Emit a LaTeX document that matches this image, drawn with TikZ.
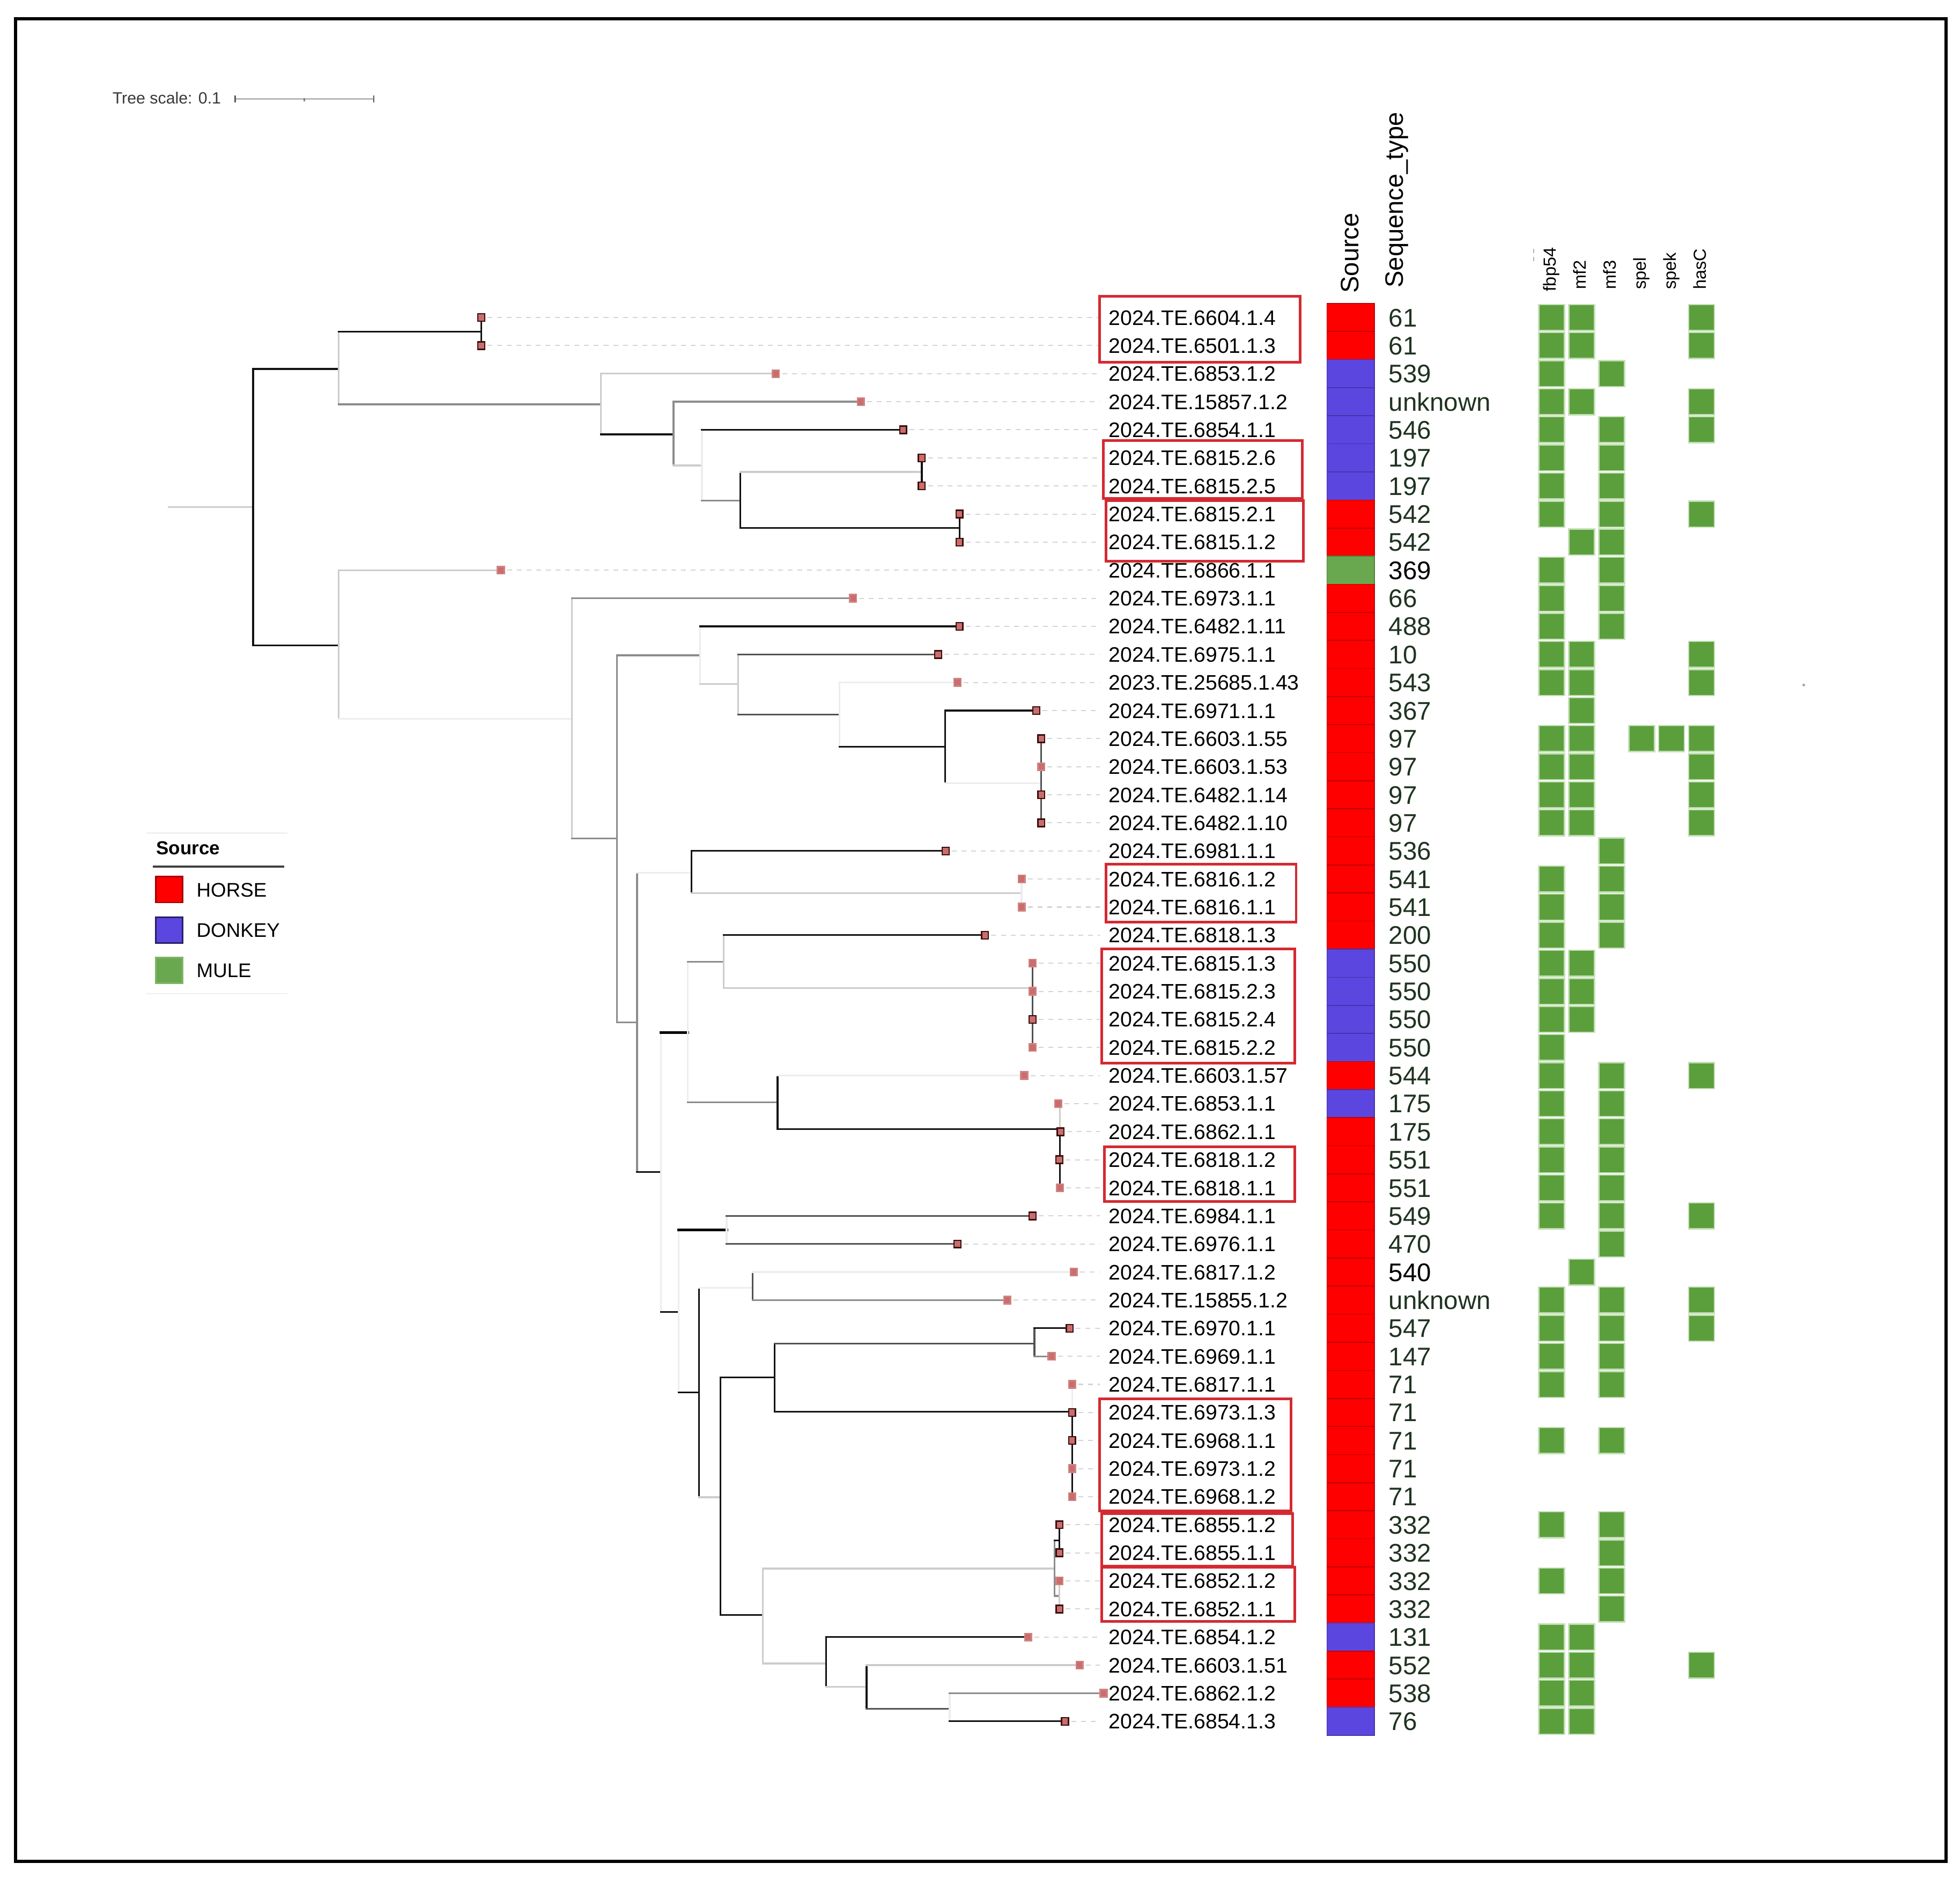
\documentclass[tikz,border=0pt]{standalone}
\usepackage{fontspec}
\setmainfont{Liberation Sans}
\definecolor{horse}{HTML}{FF0000}
\definecolor{donkey}{HTML}{5C46E0}
\definecolor{mule}{HTML}{6AA84F}
\definecolor{gene}{HTML}{5B9F3D}
\definecolor{genebd}{HTML}{C3DFB4}
\definecolor{boxred}{HTML}{D42A32}
\definecolor{leaffill}{HTML}{C96D6D}
\definecolor{leafdk}{HTML}{3A0C0C}
\definecolor{seqcol}{HTML}{1F3320}
\newcommand\hbr[3]{\draw[#1] (#2 |- #3) -- (#3);}
\newcommand\vbr[4]{\draw[#1] (#2 |- #3) -- (#2 |- #4);}
\tikzset{
 cK/.style={draw=black!93, line width=0.4pt, line cap=rect},
 cKt/.style={draw=black, line width=0.65pt, line cap=rect},
 cD/.style={draw=black!68, line width=0.4pt, line cap=rect},
 cG/.style={draw=black!45, line width=0.4pt, line cap=rect},
 cL/.style={draw=black!20, line width=0.4pt, line cap=rect},
 cV/.style={draw=black!7, line width=0.4pt, line cap=rect},
 leafk/.style={rectangle, draw=leafdk, fill=leaffill, line width=0.3pt, minimum width=1.55pt, minimum height=1.7pt, inner sep=0pt},
 leafl/.style={rectangle, draw=leaffill!85!white, fill=leaffill, line width=0.3pt, minimum width=1.55pt, minimum height=1.7pt, inner sep=0pt},
 leader/.style={draw=black!17, line width=0.25pt, dash pattern=on 1.1pt off 1.1pt},
 lbl/.style={anchor=base west, inner sep=0pt, outer sep=0pt, font=\fontsize{4.78pt}{5pt}\selectfont},
 seqt/.style={anchor=base west, inner sep=0pt, outer sep=0pt, font=\fontsize{5.8pt}{6pt}\selectfont},
 hdr/.style={anchor=base west, inner sep=0pt, outer sep=0pt, font=\fontsize{5.75pt}{6pt}\selectfont},
 ghdr/.style={anchor=base west, inner sep=0pt, outer sep=0pt, font=\fontsize{3.98pt}{4.2pt}\selectfont},
 legi/.style={anchor=base west, inner sep=0pt, outer sep=0pt, font=\fontsize{4.48pt}{4.7pt}\selectfont},
 legsq/.style={rectangle, minimum width=0.213cm, minimum height=0.206cm, inner sep=0pt, line width=0.35pt},
 redbox/.style={draw=boxred, line width=0.6pt},
 frame/.style={draw=black, line width=0.74pt},
}
\begin{document}
\begin{tikzpicture}[x=0.01cm,y=-0.01cm]
\useasboundingbox (0,0) rectangle (1568,1502.3);
\draw[frame] (12.6,15) rectangle (1557,1489);

% tree scale
\node[anchor=base west, inner sep=0pt, font=\fontsize{3.7pt}{4pt}\selectfont, text=black!78] (tscale) at (89.3,83) {Tree scale: 0.1};
\coordinate (sb1) at (188,79.3);
\coordinate (sbm) at (243.5,79.3);
\coordinate (sb2) at (299,79.3);
\draw[draw=black!28, line width=0.4pt] (sb1) -- (sb2);
\draw[draw=black!65, line width=0.35pt] (sb1) ++(0,-2.9) -- ++(0,5.4);
\draw[draw=black!65, line width=0.35pt] (sb2) ++(0,-2.9) -- ++(0,5.4);
\draw[draw=black!50, line width=0.3pt] (sbm) ++(0,-1) -- ++(0,3);

% leaf coordinates
\foreach \i/\x in {1/385,2/385,3/620.7,4/688.6,5/722.5,6/737.4,7/737.4,8/767.6,9/767.6,10/400.7,
 11/682.4,12/767.6,13/750.5,14/766,15/829,16/833,17/833,18/833,19/833,20/756.5,
 21/817.3,22/817.3,23/788,24/826,25/826,26/826,27/826,28/819.4,29/846.5,30/848.5,
 31/847.5,32/848,33/826,34/766,35/859,36/805.7,37/855.7,38/841.3,39/857.7,40/857.7,
 41/857.7,42/857.7,43/857.7,44/847.6,45/847.6,46/847.6,47/847.6,48/822.5,49/863.7,50/882.9,51/852}{
 \pgfmathsetmacro\yy{254+22.46*(\i-1)}
 \coordinate (L\i) at (\x,\yy);
}

% internal nodes
\coordinate (root) at (135,405.75);
\coordinate (n0) at (202.5,405.75);
\coordinate (A) at (271,295.2);
\coordinate (B) at (385,265.23);
\coordinate (C) at (480.7,323.5);
\coordinate (D) at (538.8,347.5);
\coordinate (E) at (561.6,372.4);
\coordinate (F) at (592.3,400.4);
\coordinate (G) at (737.4,377.5);
\coordinate (H) at (767.6,422.45);
\coordinate (I) at (271,516.3);
\coordinate (J) at (457.4,575.1);
\coordinate (K) at (493.7,670.6);
\coordinate (M) at (560,524.3);
\coordinate (N) at (590.6,547.3);
\coordinate (O) at (671.6,571.6);
\coordinate (Q) at (756,597.5);
\coordinate (Rc) at (833,626.6);
\coordinate (P) at (509.6,818);
\coordinate (S) at (553.3,698.3);
\coordinate (T) at (817.3,714.4);
\coordinate (W) at (528.8,937.5);
\coordinate (X) at (550.2,826);
\coordinate (Y) at (578.8,769.5);
\coordinate (Y2) at (826,790.5);
\coordinate (Z) at (622,881.9);
\coordinate (Z2) at (848,903.3);
\coordinate (AA) at (543,1049.5);
\coordinate (AB) at (581.3,984);
\coordinate (AC) at (559.3,1113.8);
\coordinate (AD) at (602,1030.3);
\coordinate (AE) at (576.4,1197.8);
\coordinate (AF) at (619.6,1102);
\coordinate (AG) at (827.6,1075);
\coordinate (AH) at (857.7,1129.4);
\coordinate (AJ) at (610.3,1292);
\coordinate (AK) at (843.5,1254.8);
\coordinate (AK1) at (847.6,1232.3);
\coordinate (AK2) at (847.6,1276.7);
\coordinate (AM) at (660.8,1330.8);
\coordinate (AN) at (693.3,1349.4);
\coordinate (AO) at (759.8,1367);

% branches
\draw[cL] (root) -- (n0);
\vbr{cK}{n0}{A}{I} \hbr{cK}{n0}{A} \hbr{cK}{n0}{I}
\vbr{cL}{A}{B}{C} \hbr{cK}{A}{B} \hbr{cG}{A}{C}
\vbr{cK}{B}{L1}{L2}
\vbr{cL}{C}{L3}{D} \hbr{cL}{C}{L3} \hbr{cK}{C}{D}
\vbr{cG}{D}{L4}{E} \hbr{cG}{D}{L4} \hbr{cL}{D}{E}
\vbr{cV}{E}{L5}{F} \hbr{cK}{E}{L5} \hbr{cG}{E}{F}
\vbr{cK}{F}{G}{H} \hbr{cL}{F}{G} \hbr{cK}{F}{H}
\vbr{cK}{G}{L6}{L7}
\vbr{cK}{H}{L8}{L9}
\vbr{cL}{I}{L10}{J} \hbr{cL}{I}{L10} \hbr{cV}{I}{J}
\vbr{cL}{J}{L11}{K} \hbr{cG}{J}{L11} \hbr{cG}{J}{K}
\vbr{cG}{K}{M}{P} \hbr{cG}{K}{M} \hbr{cG}{K}{P}
\vbr{cV}{M}{L12}{N} \hbr{cK}{M}{L12} \hbr{cL}{M}{N}
\vbr{cL}{N}{L13}{O} \hbr{cD}{N}{L13} \hbr{cD}{N}{O}
\vbr{cV}{O}{L14}{Q} \hbr{cV}{O}{L14} \hbr{cK}{O}{Q}
\vbr{cK}{Q}{L15}{Rc} \hbr{cK}{Q}{L15} \hbr{cV}{Q}{Rc}
\vbr{cD}{Rc}{L16}{L19}
\vbr{cG}{P}{S}{W} \hbr{cV}{P}{S} \hbr{cK}{P}{W}
\vbr{cK}{S}{L20}{T} \hbr{cK}{S}{L20} \hbr{cL}{S}{T}
\vbr{cV}{T}{L21}{L22}
\vbr{cV}{W}{X}{AA} \hbr{cKt}{W}{X} \hbr{cK}{W}{AA}
\vbr{cV}{X}{Y}{Z} \hbr{cG}{X}{Y} \hbr{cG}{X}{Z}
\vbr{cL}{Y}{L23}{Y2} \hbr{cK}{Y}{L23} \hbr{cL}{Y}{Y2}
\vbr{cD}{Y2}{L24}{L27}
\vbr{cK}{Z}{L28}{Z2} \hbr{cV}{Z}{L28} \hbr{cK}{Z}{Z2}
\vbr{cL}{Z2}{L29}{Z2} \vbr{cK}{Z2}{Z2}{L32}
\vbr{cV}{AA}{AB}{AC} \hbr{cKt}{AA}{AB} \hbr{cK}{AA}{AC}
\vbr{cV}{AB}{L33}{L34} \hbr{cD}{AB}{L33} \hbr{cD}{AB}{L34}
\vbr{cK}{AC}{AD}{AE} \hbr{cV}{AC}{AD} \hbr{cL}{AC}{AE}
\vbr{cD}{AD}{L35}{L36} \hbr{cV}{AD}{L35} \hbr{cG}{AD}{L36}
\vbr{cK}{AE}{AF}{AJ} \hbr{cK}{AE}{AF} \hbr{cK}{AE}{AJ}
\vbr{cK}{AF}{AG}{AH} \hbr{cD}{AF}{AG} \hbr{cK}{AF}{AH}
\vbr{cD}{AG}{L37}{L38} \hbr{cK}{AG}{L37} \hbr{cG}{AG}{L38}
\vbr{cV}{AH}{L39}{AH} \vbr{cK}{AH}{AH}{L43}
\vbr{cL}{AJ}{AK}{AM} \hbr{cL}{AJ}{AK} \hbr{cL}{AJ}{AM}
\vbr{cG}{AK}{AK1}{AK2} \hbr{cK}{AK}{AK1} \hbr{cG}{AK}{AK2}
\vbr{cK}{AK1}{L44}{L45}
\vbr{cL}{AK2}{L46}{L47}
\vbr{cK}{AM}{L48}{AN} \hbr{cK}{AM}{L48} \hbr{cL}{AM}{AN}
\vbr{cK}{AN}{L49}{AO} \hbr{cL}{AN}{L49} \hbr{cD}{AN}{AO}
\vbr{cV}{AO}{L50}{L51} \hbr{cG}{AO}{L50} \hbr{cK}{AO}{L51}

% leader lines
\coordinate (lx) at (880,0);
\foreach \i in {1,...,49,51}{
 \draw[leader] (L\i) ++(5,0) -- (L\i -| lx);
}

% leaf squares
\foreach \i/\s in {1/k,2/k,3/l,4/l,5/k,6/k,7/k,8/k,9/k,10/l,11/l,12/k,13/k,14/l,15/k,16/k,17/l,18/k,19/k,20/k,
 21/l,22/l,23/k,24/l,25/l,26/k,27/l,28/l,29/l,30/k,31/k,32/l,33/k,34/k,35/l,36/l,37/k,38/l,39/l,40/k,
 41/k,42/l,43/l,44/k,45/k,46/l,47/k,48/l,49/l,50/l,51/k}{
 \node[leaf\s] (S\i) at (L\i) {};
}

% labels
\foreach \i/\t in {1/2024.TE.6604.1.4,2/2024.TE.6501.1.3,3/2024.TE.6853.1.2,4/2024.TE.15857.1.2,5/2024.TE.6854.1.1,
 6/2024.TE.6815.2.6,7/2024.TE.6815.2.5,8/2024.TE.6815.2.1,9/2024.TE.6815.1.2,10/2024.TE.6866.1.1,
 11/2024.TE.6973.1.1,12/2024.TE.6482.1.11,13/2024.TE.6975.1.1,14/2023.TE.25685.1.43,15/2024.TE.6971.1.1,
 16/2024.TE.6603.1.55,17/2024.TE.6603.1.53,18/2024.TE.6482.1.14,19/2024.TE.6482.1.10,20/2024.TE.6981.1.1,
 21/2024.TE.6816.1.2,22/2024.TE.6816.1.1,23/2024.TE.6818.1.3,24/2024.TE.6815.1.3,25/2024.TE.6815.2.3,
 26/2024.TE.6815.2.4,27/2024.TE.6815.2.2,28/2024.TE.6603.1.57,29/2024.TE.6853.1.1,30/2024.TE.6862.1.1,
 31/2024.TE.6818.1.2,32/2024.TE.6818.1.1,33/2024.TE.6984.1.1,34/2024.TE.6976.1.1,35/2024.TE.6817.1.2,
 36/2024.TE.15855.1.2,37/2024.TE.6970.1.1,38/2024.TE.6969.1.1,39/2024.TE.6817.1.1,40/2024.TE.6973.1.3,
 41/2024.TE.6968.1.1,42/2024.TE.6973.1.2,43/2024.TE.6968.1.2,44/2024.TE.6855.1.2,45/2024.TE.6855.1.1,
 46/2024.TE.6852.1.2,47/2024.TE.6852.1.1,48/2024.TE.6854.1.2,49/2024.TE.6603.1.51,50/2024.TE.6862.1.2,
 51/2024.TE.6854.1.3}{
 \pgfmathsetmacro\yy{254+22.46*(\i-1)+6.0}
 \node[lbl] (N\i) at (887,\yy) {\t};
}

% red boxes
\draw[redbox] (879.5,237.2) rectangle (1040.3,289.8);
\draw[redbox] (882.6,352.5) rectangle (1042,398.8);
\draw[redbox] (884.7,400.4) rectangle (1042.7,449);
\draw[redbox] (884.7,691.5) rectangle (1036.9,737.5);
\draw[redbox] (881.3,759) rectangle (1035.8,850.6);
\draw[redbox] (883.7,917.6) rectangle (1035.8,961.3);
\draw[redbox] (879.5,1119) rectangle (1033,1208.7);
\draw[redbox] (881.3,1210.9) rectangle (1034,1252.9);
\draw[redbox] (881.3,1253.8) rectangle (1035.8,1297);

% source column
\foreach \i/\c in {1/horse,2/horse,3/donkey,4/donkey,5/donkey,6/donkey,7/donkey,8/horse,9/horse,10/mule,
 11/horse,12/horse,13/horse,14/horse,15/horse,16/horse,17/horse,18/horse,19/horse,20/horse,
 21/horse,22/horse,23/horse,24/donkey,25/donkey,26/donkey,27/donkey,28/horse,29/donkey,30/horse,
 31/horse,32/horse,33/horse,34/horse,35/horse,36/horse,37/horse,38/horse,39/horse,40/horse,
 41/horse,42/horse,43/horse,44/horse,45/horse,46/horse,47/horse,48/donkey,49/horse,50/horse,51/donkey}{
 \pgfmathsetmacro\yy{254+22.46*(\i-1)-11.23}
 \fill[fill=\c, draw=\c!75!black, line width=0.2pt] (1061.5,\yy) rectangle ++(38,22.46);
}

% sequence types
\foreach \i/\t/\c in {1/61/seqcol,2/61/seqcol,3/539/seqcol,4/unknown/seqcol,5/546/seqcol,6/197/seqcol,7/197/seqcol,
 8/542/seqcol,9/542/seqcol,10/369/black,11/66/seqcol,12/488/seqcol,13/10/seqcol,14/543/seqcol,15/367/seqcol,
 16/97/seqcol,17/97/seqcol,18/97/seqcol,19/97/seqcol,20/536/seqcol,21/541/seqcol,22/541/seqcol,23/200/seqcol,
 24/550/seqcol,25/550/seqcol,26/550/seqcol,27/550/seqcol,28/544/seqcol,29/175/seqcol,30/175/seqcol,
 31/551/seqcol,32/551/seqcol,33/549/seqcol,34/470/seqcol,35/540/black,36/unknown/seqcol,37/547/seqcol,
 38/147/seqcol,39/71/seqcol,40/71/seqcol,41/71/seqcol,42/71/seqcol,43/71/seqcol,44/332/seqcol,45/332/seqcol,
 46/332/seqcol,47/332/seqcol,48/131/seqcol,49/552/seqcol,50/538/seqcol,51/76/seqcol}{
 \pgfmathsetmacro\yy{254+22.46*(\i-1)+7.3}
 \node[seqt, text=\c] (V\i) at (1111,\yy) {\t};
}

% headers
\node[hdr, rotate=90] (hsrc) at (1087,234.5) {Source};
\node[hdr, rotate=90] (hseq) at (1122.5,230.2) {Sequence\_type};
\foreach \k/\g/\b in {0/fbp54/233,1/mf2/231.6,2/mf3/231.6,3/spel/231.6,4/spek/231.6,5/hasC/231.6}{
 \pgfmathsetmacro\xx{1244.8+24*\k}
 \node[ghdr, rotate=90] (GH\k) at (\xx,\b) {\g};
}
\draw[draw=black!30, line width=0.3pt] (1227,199) -- (1227,202.5) (1227,205.5) -- (1227,209);

% gene matrix
\foreach \k/\rl in {0/{1,2,3,4,5,6,7,8,10,11,12,13,14,16,17,18,19,21,22,23,24,25,26,27,28,29,30,31,32,33,36,37,38,39,41,44,46,48,49,50,51},
 1/{1,2,4,9,13,14,15,16,17,18,19,24,25,26,35,48,49,50,51},
 2/{3,5,6,7,8,9,10,11,12,20,21,22,23,28,29,30,31,32,33,34,36,37,38,39,41,44,45,46,47},
 3/{16},4/{16},
 5/{1,2,4,5,8,13,14,16,17,18,19,28,33,36,37,49}}{
 \foreach \r in \rl {
  \pgfmathsetmacro\xx{1231+24*\k}
  \pgfmathsetmacro\yy{254+22.46*(\r-1)-10.4}
  \fill[fill=gene, draw=genebd, line width=0.3pt] (\xx,\yy) rectangle ++(20.6,20.8);
 }
}

% stray dot
\fill[black!35] (1443,548) circle (1.1);

% legend
\draw[draw=black!6, line width=0.3pt] (117,666.4) -- (230,666.4);
\draw[draw=black!6, line width=0.3pt] (117,795) -- (230,795);
\node[anchor=base west, inner sep=0pt, font=\fontsize{4.27pt}{4.5pt}\selectfont\bfseries] (legtitle) at (124.4,683.6) {Source};
\draw[draw=black!75, line width=0.4pt] (122.2,693.3) -- (227.3,693.3);
\node[legsq, fill=horse, draw=horse!65!black] (lgh) at (135.25,711.7) {};
\node[legsq, fill=donkey, draw=donkey!45!black] (lgd) at (135.25,744) {};
\node[legsq, fill=mule, draw=mule!85!white] (lgm) at (135.25,776.2) {};
\node[legi] (lgth) at (157.3,717.4) {HORSE};
\node[legi] (lgtd) at (157.3,749.7) {DONKEY};
\node[legi] (lgtm) at (157.3,781.9) {MULE};
\end{tikzpicture}
\end{document}
